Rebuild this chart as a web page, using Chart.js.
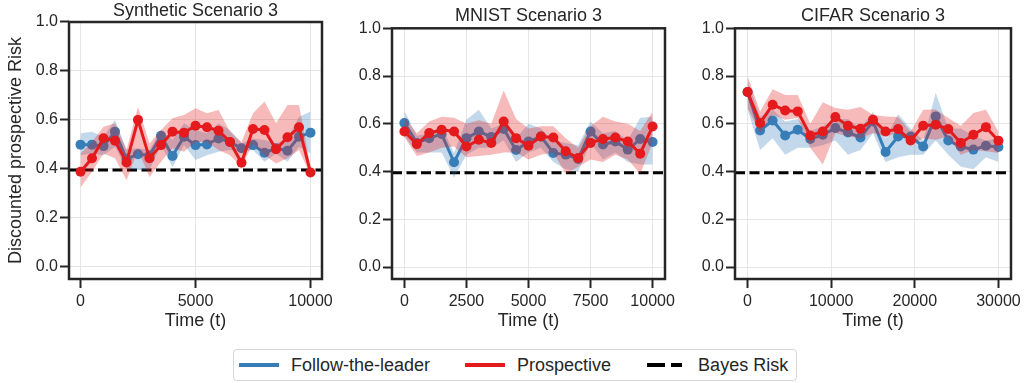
<!DOCTYPE html>
<html>
<head>
<meta charset="utf-8">
<script src="https://cdn.jsdelivr.net/npm/chart.js@4.4.0/dist/chart.umd.min.js"></script>
<style>
  body { margin: 0; background: #fff; width: 1024px; height: 383px; overflow: hidden; position: relative; font-family: "Liberation Sans", Arial, sans-serif; }
  canvas { position: absolute; top: 0; }
  #legend { position: absolute; left: 233px; top: 349px; width: 564px; height: 32px; box-sizing: border-box;
    border: 1.2px solid #d6d6d6; border-radius: 4px; display: flex; align-items: center; padding-left: 5px;
    font-size: 18px; color: #262626; white-space: nowrap; }
  #legend .item { display: flex; align-items: center; margin-right: 35px; flex-shrink: 0; }
  #legend svg { margin-right: 12px; flex-shrink: 0; }
</style>
</head>
<body>
<canvas id="c1" width="336" height="340" style="left:0px"></canvas>
<canvas id="c2" width="340" height="340" style="left:340px"></canvas>
<canvas id="c3" width="340" height="340" style="left:684px"></canvas>
<div id="legend"></div>
<script>
// ---- data ----
const synTime = [0, 500, 1000, 1500, 2000, 2500, 3000, 3500, 4000, 4500, 5000, 5500, 6000, 6500, 7000, 7500, 8000, 8500, 9000, 9500, 10000];
const synFtl   = [0.499, 0.499, 0.493, 0.552, 0.440, 0.460, 0.455, 0.535, 0.453, 0.531, 0.497, 0.500, 0.524, 0.510, 0.484, 0.497, 0.466, 0.484, 0.474, 0.531, 0.548];
const synFtlLo = [0.456, 0.463, 0.456, 0.490, 0.400, 0.395, 0.395, 0.497, 0.408, 0.497, 0.436, 0.456, 0.470, 0.477, 0.470, 0.477, 0.429, 0.463, 0.429, 0.490, 0.463];
const synFtlHi = [0.545, 0.552, 0.531, 0.600, 0.480, 0.484, 0.477, 0.559, 0.518, 0.586, 0.559, 0.545, 0.586, 0.559, 0.504, 0.524, 0.518, 0.504, 0.524, 0.613, 0.634];
const synPro   = [0.388, 0.443, 0.525, 0.515, 0.426, 0.600, 0.443, 0.497, 0.552, 0.548, 0.576, 0.570, 0.556, 0.510, 0.425, 0.563, 0.559, 0.480, 0.529, 0.570, 0.385];
const synProLo = [0.324, 0.388, 0.463, 0.443, 0.353, 0.477, 0.367, 0.429, 0.484, 0.470, 0.510, 0.510, 0.477, 0.456, 0.408, 0.504, 0.456, 0.422, 0.443, 0.477, 0.374];
const synProHi = [0.463, 0.510, 0.572, 0.586, 0.477, 0.654, 0.504, 0.559, 0.607, 0.620, 0.648, 0.627, 0.640, 0.552, 0.510, 0.627, 0.675, 0.586, 0.661, 0.661, 0.408];

const mnTime = [0, 500, 1000, 1500, 2000, 2500, 3000, 3500, 4000, 4500, 5000, 5500, 6000, 6500, 7000, 7500, 8000, 8500, 9000, 9500, 10000];
const mnFtl   = [0.603, 0.520, 0.540, 0.557, 0.439, 0.540, 0.568, 0.545, 0.578, 0.490, 0.526, 0.547, 0.478, 0.471, 0.453, 0.568, 0.513, 0.526, 0.492, 0.536, 0.524];
const mnFtlLo = [0.550, 0.480, 0.480, 0.480, 0.375, 0.470, 0.500, 0.500, 0.530, 0.440, 0.480, 0.500, 0.440, 0.410, 0.400, 0.520, 0.450, 0.480, 0.440, 0.430, 0.430];
const mnFtlHi = [0.655, 0.550, 0.560, 0.590, 0.478, 0.617, 0.659, 0.580, 0.600, 0.540, 0.600, 0.580, 0.530, 0.520, 0.510, 0.610, 0.560, 0.570, 0.530, 0.625, 0.630];
const mnPro   = [0.568, 0.515, 0.561, 0.575, 0.568, 0.505, 0.533, 0.520, 0.610, 0.540, 0.508, 0.547, 0.543, 0.485, 0.457, 0.520, 0.536, 0.543, 0.526, 0.475, 0.589];
const mnProLo = [0.545, 0.465, 0.480, 0.500, 0.505, 0.460, 0.465, 0.470, 0.480, 0.480, 0.450, 0.470, 0.480, 0.390, 0.420, 0.450, 0.440, 0.470, 0.450, 0.390, 0.520];
const mnProHi = [0.625, 0.560, 0.610, 0.630, 0.625, 0.600, 0.615, 0.600, 0.740, 0.620, 0.580, 0.590, 0.590, 0.540, 0.500, 0.590, 0.630, 0.610, 0.600, 0.570, 0.650];

const cfTime = [0, 1500, 3000, 4500, 6000, 7500, 9000, 10500, 12000, 13500, 15000, 16500, 18000, 19500, 21000, 22500, 24000, 25500, 27000, 28500, 30000];
const cfFtl   = [0.733, 0.572, 0.614, 0.551, 0.575, 0.536, 0.554, 0.582, 0.564, 0.543, 0.610, 0.482, 0.547, 0.547, 0.505, 0.631, 0.530, 0.505, 0.492, 0.508, 0.503];
const cfFtlLo = [0.66, 0.49, 0.54, 0.47, 0.50, 0.50, 0.51, 0.53, 0.47, 0.49, 0.56, 0.44, 0.46, 0.47, 0.47, 0.53, 0.47, 0.42, 0.41, 0.46, 0.44];
const cfFtlHi = [0.78, 0.63, 0.66, 0.61, 0.62, 0.57, 0.59, 0.62, 0.62, 0.58, 0.65, 0.54, 0.64, 0.58, 0.53, 0.73, 0.58, 0.58, 0.55, 0.53, 0.54];
const cfPro   = [0.733, 0.603, 0.680, 0.656, 0.652, 0.551, 0.568, 0.628, 0.592, 0.579, 0.617, 0.568, 0.578, 0.530, 0.592, 0.596, 0.578, 0.520, 0.554, 0.586, 0.529];
const cfProLo = [0.666, 0.561, 0.638, 0.617, 0.624, 0.50, 0.43, 0.561, 0.547, 0.54, 0.561, 0.547, 0.561, 0.512, 0.54, 0.533, 0.547, 0.47, 0.49, 0.485, 0.478];
const cfProHi = [0.80, 0.652, 0.745, 0.721, 0.721, 0.60, 0.69, 0.666, 0.659, 0.67, 0.638, 0.631, 0.628, 0.568, 0.659, 0.66, 0.624, 0.592, 0.645, 0.659, 0.568];

const bayesRisk = 0.395;
const yTicks = [0, 0.2, 0.4, 0.6, 0.8, 1.0];
const synXTicks = [0, 5000, 10000];
const mnXTicks = [0, 2500, 5000, 7500, 10000];
const cfXTicks = [0, 10000, 20000, 30000];
const seriesLabels = ["Follow-the-leader", "Prospective", "Bayes Risk"];

// ---- style ----
const FONT = "'Liberation Sans', Arial, sans-serif";
const TEXT = "#262626";
const BLUE = "#377eb8";
const RED = "#e41a1c";
const BLUE_BAND = "rgba(55,126,184,0.3)";
const RED_BAND = "rgba(228,26,28,0.3)";
const GRID = "#e6e6e6";

function pts(xs, ys) {
  return xs.map((x, i) => ({ x: x, y: ys[i] }));
}

// box around the plot area, like matplotlib spines
const framePlugin = {
  id: "frame",
  afterDraw(chart) {
    const { ctx, chartArea: a } = chart;
    ctx.save();
    ctx.strokeStyle = TEXT;
    ctx.lineWidth = 2.5;
    ctx.strokeRect(a.left, a.top, a.right - a.left, a.bottom - a.top);
    ctx.restore();
  }
};

function makePanel(id, p) {
  const band = { pointRadius: 0, borderColor: "transparent", borderWidth: 1 };
  const datasets = [
    { label: seriesLabels[1], data: pts(p.t, p.pro), borderColor: RED, backgroundColor: RED,
      borderWidth: 3, pointRadius: 5, pointBorderWidth: 0, fill: false, order: 0 },
    { ...band, data: pts(p.t, p.proHi), fill: false, order: 2 },
    { ...band, data: pts(p.t, p.proLo), fill: "-1", backgroundColor: RED_BAND, order: 1 },
    { label: seriesLabels[0], data: pts(p.t, p.ftl), borderColor: BLUE, backgroundColor: BLUE,
      borderWidth: 3, pointRadius: 5, pointBorderWidth: 0, fill: false, order: 3 },
    { ...band, data: pts(p.t, p.ftlHi), fill: false, order: 5 },
    { ...band, data: pts(p.t, p.ftlLo), fill: "-1", backgroundColor: BLUE_BAND, order: 4 },
    { label: seriesLabels[2], data: [{ x: p.xMin, y: bayesRisk }, { x: p.xMax, y: bayesRisk }],
      borderColor: "#000", borderWidth: 3, borderDash: [10, 4.5], pointRadius: 0, fill: false, order: 6 }
  ];

  const gridOpts = { color: GRID, lineWidth: 1, tickColor: TEXT, tickWidth: 2, tickLength: 9 };

  return new Chart(document.getElementById(id), {
    type: "line",
    data: { datasets: datasets },
    plugins: [framePlugin],
    options: {
      responsive: false,
      animation: false,
      layout: { padding: { top: 0, right: p.padRight, bottom: 0, left: 0 } },
      plugins: {
        legend: { display: false },
        tooltip: { enabled: false },
        title: { display: true, fullSize: false, text: p.title, color: TEXT,
          font: { size: 18, family: FONT, weight: "normal" }, padding: p.titlePad }
      },
      scales: {
        x: {
          type: "linear", min: p.xMin, max: p.xMax,
          afterBuildTicks: s => { s.ticks = p.xTicks.map(v => ({ value: v })); },
          afterFit: s => { s.height = 61; s.paddingLeft = 0; s.paddingRight = 0; },
          ticks: { color: TEXT, font: { size: 16, family: FONT }, padding: 4, maxRotation: 0, callback: v => String(v) },
          grid: gridOpts,
          border: { display: false },
          title: { display: true, text: "Time (t)", color: TEXT, font: { size: 18, family: FONT }, padding: { top: 0, bottom: 8 } }
        },
        y: {
          min: -0.05, max: 1.0,
          afterBuildTicks: s => { s.ticks = yTicks.map(v => ({ value: v })); },
          afterFit: s => { s.width = p.yWidth; s.paddingTop = 0; s.paddingBottom = 0; },
          ticks: { color: TEXT, font: { size: 16, family: FONT }, padding: 2, callback: v => v.toFixed(1) },
          grid: gridOpts,
          border: { display: false },
          title: { display: p.yTitle !== "", text: p.yTitle, color: TEXT, font: { size: 18, family: FONT }, padding: { top: 5, bottom: 0 } }
        }
      }
    }
  });
}

makePanel("c1", { title: "Synthetic Scenario 3", t: synTime, ftl: synFtl, ftlLo: synFtlLo, ftlHi: synFtlHi,
  pro: synPro, proLo: synProLo, proHi: synProHi, xMin: -500, xMax: 10500, xTicks: synXTicks,
  yWidth: 69, padRight: 14, titlePad: { top: 0, bottom: 0.4 }, yTitle: "Discounted prospective Risk" });

makePanel("c2", { title: "MNIST Scenario 3", t: mnTime, ftl: mnFtl, ftlLo: mnFtlLo, ftlHi: mnFtlHi,
  pro: mnPro, proLo: mnProLo, proHi: mnProHi, xMin: -500, xMax: 10500, xTicks: mnXTicks,
  yWidth: 52, padRight: 15, titlePad: { top: 5, bottom: 1.7 }, yTitle: "" });

makePanel("c3", { title: "CIFAR Scenario 3", t: cfTime, ftl: cfFtl, ftlLo: cfFtlLo, ftlHi: cfFtlHi,
  pro: cfPro, proLo: cfProLo, proHi: cfProHi, xMin: -1500, xMax: 31500, xTicks: cfXTicks,
  yWidth: 51, padRight: 13, titlePad: { top: 5, bottom: 1.7 }, yTitle: "" });

// shared legend under the panels
const legend = document.getElementById("legend");
const legendStyles = [
  { color: BLUE, len: 40, dash: "" },
  { color: RED, len: 40, dash: "" },
  { color: "#000", len: 36, dash: "18 6" }
];
seriesLabels.forEach((label, i) => {
  const item = document.createElement("div");
  item.className = "item";
  const st = legendStyles[i];
  item.innerHTML =
    '<svg width="40" height="8"><line x1="1" y1="4" x2="' + st.len + '" y2="4" stroke="' + st.color +
    '" stroke-width="4" stroke-linecap="' + (st.dash ? "butt" : "round") + '" stroke-dasharray="' + st.dash + '"/></svg>';
  const span = document.createElement("span");
  span.textContent = label;
  item.appendChild(span);
  legend.appendChild(item);
});
</script>
</body>
</html>
